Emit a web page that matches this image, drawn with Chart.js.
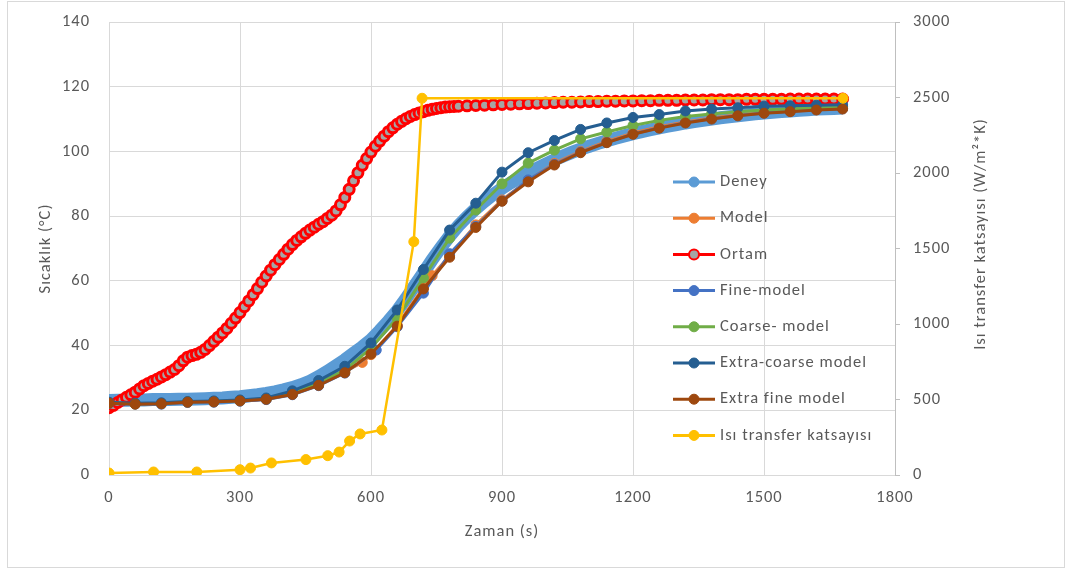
<!DOCTYPE html>
<html>
<head>
<meta charset="utf-8">
<script src="https://cdn.jsdelivr.net/npm/chart.js@4"></script>
<style>
  body { margin: 0; background: #fff; }
</style>
</head>
<body>
<canvas id="grafik" width="1070" height="572"></canvas>
<script>
// zaman ekseni (s)
const zamanModel = [0, 60, 120, 180, 240, 300, 360, 420, 480, 540, 600, 660, 720, 780, 840, 900, 960, 1020, 1080, 1140, 1200, 1260, 1320, 1380, 1440, 1500, 1560, 1620, 1680];

// Deney (yoğun ölçüm)
const zamanDeney = [0, 20, 40, 60, 80, 100, 120, 140, 160, 180, 200, 220, 240, 260, 280, 300, 320, 340, 360, 380, 400, 420, 440, 460, 480, 500, 520, 540, 560, 580, 600, 620, 640, 660, 680, 700, 720, 740, 760, 780, 800, 820, 840, 860, 880, 900, 920, 940, 960, 980, 1000, 1020, 1040, 1060, 1080, 1100, 1120, 1140, 1160, 1180, 1200, 1220, 1240, 1260, 1280, 1300, 1320, 1340, 1360, 1380, 1400, 1420, 1440, 1460, 1480, 1500, 1520, 1540, 1560, 1580, 1600, 1620, 1640, 1660, 1680];
const deney = [23.0, 23.1, 23.1, 23.2, 23.2, 23.3, 23.3, 23.3, 23.4, 23.4, 23.5, 23.6, 23.7, 23.8, 24.0, 24.2, 24.5, 24.8, 25.2, 25.7, 26.3, 27.0, 27.9, 29.0, 30.4, 32.0, 33.8, 35.6, 37.6, 39.6, 41.8, 44.6, 47.6, 50.8, 54.5, 58.5, 62.5, 66.5, 70.3, 73.8, 77.0, 79.8, 82.3, 84.6, 86.7, 88.6, 90.3, 91.9, 93.4, 94.8, 96.1, 97.4, 98.6, 99.7, 100.7, 101.6, 102.5, 103.3, 104.1, 104.8, 105.5, 106.1, 106.7, 107.3, 107.8, 108.3, 108.8, 109.2, 109.6, 110.0, 110.4, 110.7, 111.0, 111.3, 111.6, 111.9, 112.1, 112.3, 112.5, 112.7, 112.9, 113.1, 113.2, 113.3, 113.4];

// Model
const zamanModelTuru = [0, 60, 120, 180, 240, 300, 360, 420, 480, 540, 580, 600, 660, 720, 740, 780, 840, 900, 960, 1020, 1080, 1140, 1200, 1260, 1320, 1380, 1440, 1500, 1560, 1620, 1680];
const model = [22.3, 22.0, 22.1, 22.5, 22.6, 22.9, 23.4, 25.0, 27.9, 31.9, 34.8, 37.2, 46.3, 57.9, 61.6, 67.8, 77.3, 85.0, 91.0, 96.3, 100.0, 103.1, 105.7, 107.6, 109.1, 110.3, 111.3, 112.0, 112.5, 113.0, 113.3];

// Ortam
const zamanOrtam = [0, 10, 20, 30, 40, 50, 60, 70, 80, 90, 100, 110, 120, 130, 140, 150, 160, 170, 180, 190, 200, 210, 220, 230, 240, 250, 260, 270, 280, 290, 300, 310, 320, 330, 340, 350, 360, 370, 380, 390, 400, 410, 420, 430, 440, 450, 460, 470, 480, 490, 500, 510, 520, 530, 540, 550, 560, 570, 580, 590, 600, 610, 620, 630, 640, 650, 660, 670, 680, 690, 700, 710, 720, 730, 740, 750, 760, 770, 780, 790, 800, 820, 840, 860, 880, 900, 920, 940, 960, 980, 1000, 1020, 1040, 1060, 1080, 1100, 1120, 1140, 1160, 1180, 1200, 1220, 1240, 1260, 1280, 1300, 1320, 1340, 1360, 1380, 1400, 1420, 1440, 1460, 1480, 1500, 1520, 1540, 1560, 1580, 1600, 1620, 1640, 1660, 1680];
const ortam = [20.8, 21.5, 22.4, 23.2, 24.0, 24.8, 25.6, 26.6, 27.6, 28.3, 29.0, 29.6, 30.3, 31.0, 31.8, 32.6, 33.8, 35.3, 36.4, 36.9, 37.3, 37.9, 38.8, 40.0, 41.3, 42.6, 43.9, 45.3, 46.9, 48.5, 50.2, 52.0, 53.8, 55.7, 57.6, 59.6, 61.5, 63.3, 65.0, 66.6, 68.2, 69.8, 71.2, 72.5, 73.6, 74.7, 75.7, 76.6, 77.5, 78.3, 79.3, 80.3, 81.6, 83.5, 85.8, 88.3, 90.9, 93.4, 95.7, 97.8, 99.8, 101.6, 103.2, 104.7, 106.1, 107.3, 108.4, 109.3, 110.1, 110.8, 111.4, 111.9, 112.3, 112.7, 113.0, 113.3, 113.5, 113.7, 113.8, 113.9, 114.0, 114.1, 114.2, 114.3, 114.4, 114.5, 114.6, 114.7, 114.8, 114.9, 115.0, 115.1, 115.2, 115.2, 115.3, 115.4, 115.4, 115.5, 115.5, 115.6, 115.6, 115.7, 115.7, 115.8, 115.8, 115.8, 115.9, 115.9, 115.9, 116.0, 116.0, 116.0, 116.0, 116.1, 116.1, 116.1, 116.1, 116.1, 116.2, 116.2, 116.2, 116.2, 116.2, 116.2, 116.2];

// Fine-model
const zamanFine = [0, 60, 120, 180, 240, 300, 360, 420, 480, 540, 612, 660, 720, 780, 840, 900, 960, 1020, 1080, 1140, 1200, 1260, 1320, 1380, 1440, 1500, 1560, 1620, 1680];
const fineModel = [22.1, 21.9, 21.9, 22.4, 22.5, 22.8, 23.3, 24.8, 27.6, 31.5, 38.6, 45.8, 56.2, 68.4, 76.8, 84.7, 91.2, 96.0, 99.8, 102.8, 105.4, 107.3, 108.9, 110.1, 111.1, 111.9, 112.4, 112.9, 113.2];

const coarseModel = [22.3, 22.0, 22.1, 22.6, 22.7, 23.0, 23.6, 25.5, 28.4, 32.4, 39.2, 48.5, 60.9, 73.2, 81.9, 90.0, 96.4, 100.4, 103.9, 106.0, 108.0, 109.6, 110.8, 111.6, 112.3, 112.8, 113.2, 113.5, 113.8];
const extraCoarseModel = [22.5, 22.2, 22.3, 22.7, 22.9, 23.2, 23.8, 26.0, 29.2, 33.6, 40.8, 51.0, 63.5, 75.7, 84.0, 93.6, 99.6, 103.4, 106.8, 108.8, 110.5, 111.4, 112.5, 113.1, 113.5, 114.0, 114.1, 114.3, 114.4];
const extraFineModel = [22.2, 21.9, 22.0, 22.5, 22.6, 22.9, 23.4, 24.9, 27.7, 31.6, 37.4, 46.0, 57.5, 67.3, 76.5, 84.6, 90.6, 95.8, 99.6, 102.7, 105.3, 107.2, 108.8, 110.0, 111.0, 111.8, 112.3, 112.8, 113.1];

// Isı transfer katsayısı (W/m²K), sağ eksen
const zamanIsi = [0, 102, 201, 300, 324, 372, 451, 501, 527, 551, 575, 625, 698, 717, 1681];
const isiTransfer = [13, 20, 20, 35, 46, 80, 102, 128, 152, 225, 272, 298, 1545, 2495, 2495];

const xTikler = [0, 300, 600, 900, 1200, 1500, 1800];
const yazi = "Carlito, Lato, 'Open Sans', sans-serif";
const yaziBoyu = 16.5;
const griRenk = '#595959';

function noktalar(xs, ys) {
    return xs.map((x, i) => ({ x: x, y: ys[i] }));
}

function seri(label, xs, ys, renk, sira, ekstra) {
    return Object.assign({
        label: label,
        data: noktalar(xs, ys),
        borderColor: renk,
        backgroundColor: renk,
        pointBackgroundColor: renk,
        pointBorderColor: renk,
        borderWidth: 3,
        pointRadius: 5,
        pointBorderWidth: 1,
        pointHoverRadius: 5,
        tension: 0,
        order: sira,
        yAxisID: 'y'
    }, ekstra || {});
}

const datasets = [
    seri('Deney', zamanDeney, deney, '#5B9BD5', 8, { borderWidth: 13, pointRadius: 0 }),
    seri('Model', zamanModelTuru, model, '#ED7D31', 7),
    seri('Ortam', zamanOrtam, ortam, '#FF0000', 6, { pointBackgroundColor: '#A5A5A5', pointBorderWidth: 3, pointRadius: 5 }),
    seri('Fine-model', zamanFine, fineModel, '#4472C4', 5),
    seri('Coarse- model', zamanModel, coarseModel, '#70AD47', 4),
    seri('Extra-coarse model', zamanModel, extraCoarseModel, '#255E91', 3),
    seri('Extra fine model', zamanModel, extraFineModel, '#9E480E', 2),
    seri('Isı transfer katsayısı', zamanIsi, isiTransfer, '#FFC000', 1, { yAxisID: 'y1', borderWidth: 2.5 })
];

// arka plan + çerçeve
const cerceve = {
    id: 'cerceve',
    beforeDraw(chart) {
        const c = chart.ctx;
        c.save();
        c.fillStyle = '#fff';
        c.fillRect(0, 0, chart.width, chart.height);
        c.strokeStyle = '#D9D9D9';
        c.lineWidth = 1;
        c.strokeRect(7.5, 1.5, 1057, 566);
        c.restore();
        c.letterSpacing = '1px';
    }
};

// grafik içindeki lejant ve sağ eksen başlığı
const lejant = {
    id: 'lejant',
    afterDraw(chart) {
        const c = chart.ctx;
        c.save();
        c.font = yaziBoyu + 'px ' + yazi;
        c.letterSpacing = '1px';
        c.textBaseline = 'middle';
        const x0 = 673, x1 = 715, y0 = 182, adim = 36.2;
        chart.data.datasets.forEach((ds, i) => {
            const y = y0 + i * adim;
            c.strokeStyle = ds.borderColor;
            c.lineWidth = 3;
            c.beginPath();
            c.moveTo(x0, y);
            c.lineTo(x1, y);
            c.stroke();
            c.beginPath();
            c.arc((x0 + x1) / 2, y, 5, 0, Math.PI * 2);
            c.fillStyle = ds.pointBackgroundColor;
            c.fill();
            c.lineWidth = ds.label === 'Ortam' ? 2 : 1;
            c.stroke();
            c.fillStyle = griRenk;
            c.fillText(ds.label, 720, y);
        });
        // sağ eksen başlığı (aşağıdan yukarı)
        c.translate(981, 234);
        c.rotate(-Math.PI / 2);
        c.textAlign = 'center';
        c.fillText('Isı transfer katsayısı (W/m²*K)', 0, 0);
        c.restore();
    }
};

const duzSayi = v => String(v);
// dikey eksenlerin etiket boşluğu çizim alanını daraltmasın
const dikeyGenislik = w => s => { s.width = w; s.paddingTop = 0; s.paddingBottom = 0; };

const config = {
    type: 'line',
    data: { datasets: datasets },
    options: {
        responsive: false,
        animation: false,
        devicePixelRatio: 1,
        layout: { padding: { left: 8, right: 0, top: 22, bottom: 0 } },
        plugins: {
            legend: { display: false },
            tooltip: { enabled: false }
        },
        scales: {
            x: {
                type: 'linear',
                min: 0,
                max: 1800,
                afterFit: s => { s.height = 97; },
                afterBuildTicks: s => { s.ticks = xTikler.map(v => ({ value: v })); },
                ticks: { color: griRenk, font: { family: yazi, size: yaziBoyu }, padding: 13, maxRotation: 0, callback: duzSayi },
                grid: { color: '#D9D9D9', drawTicks: false },
                border: { color: '#D9D9D9' },
                title: { display: true, text: 'Zaman (s)', color: griRenk, font: { family: yazi, size: yaziBoyu }, padding: { bottom: 30 } }
            },
            y: {
                position: 'left',
                min: 0,
                max: 140,
                afterFit: dikeyGenislik(101),
                ticks: { stepSize: 20, color: griRenk, font: { family: yazi, size: yaziBoyu }, padding: 19, callback: duzSayi },
                grid: { color: '#D9D9D9', drawTicks: false },
                border: { display: false },
                title: { display: true, text: 'Sıcaklık (°C)', color: griRenk, font: { family: yazi, size: yaziBoyu }, padding: { top: 28 } }
            },
            y1: {
                position: 'right',
                min: 0,
                max: 3000,
                afterFit: dikeyGenislik(175),
                ticks: { stepSize: 500, color: griRenk, font: { family: yazi, size: yaziBoyu }, padding: 13, callback: duzSayi },
                grid: { drawOnChartArea: false, color: '#BFBFBF', tickLength: 5 },
                border: { color: '#BFBFBF' }
            }
        }
    },
    plugins: [cerceve, lejant]
};

new Chart(document.getElementById('grafik').getContext('2d'), config);
</script>
</body>
</html>
